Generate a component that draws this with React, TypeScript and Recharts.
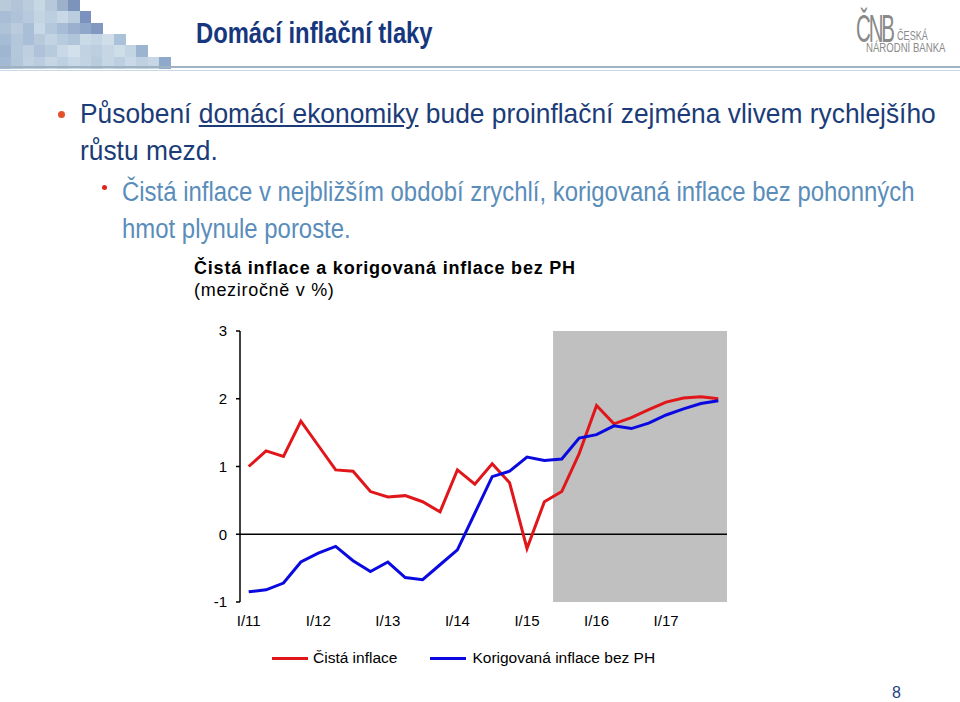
import React from "react";
import {
  ComposedChart,
  Line,
  XAxis,
  YAxis,
  ReferenceArea,
  ReferenceLine,
} from "recharts";

const quarters = [
  "I/11", "II/11", "III/11", "IV/11",
  "I/12", "II/12", "III/12", "IV/12",
  "I/13", "II/13", "III/13", "IV/13",
  "I/14", "II/14", "III/14", "IV/14",
  "I/15", "II/15", "III/15", "IV/15",
  "I/16", "II/16", "III/16", "IV/16",
  "I/17", "II/17", "III/17", "IV/17",
];

const cistaInflace = [
  1.0, 1.23, 1.15, 1.67, 1.31, 0.95, 0.93, 0.63, 0.55, 0.57, 0.48, 0.33, 0.95, 0.74,
  1.04, 0.76, -0.21, 0.48, 0.63, 1.19, 1.9, 1.63, 1.72, 1.84, 1.95, 2.01, 2.03, 2.0,
];

const korigovanaInflace = [
  -0.85, -0.82, -0.72, -0.41, -0.28, -0.18, -0.39, -0.55, -0.41, -0.64, -0.67, -0.45, -0.23, 0.31,
  0.85, 0.93, 1.14, 1.09, 1.11, 1.42, 1.47, 1.6, 1.56, 1.64, 1.76, 1.85, 1.93, 1.97,
];

const yTicks = [-1, 0, 1, 2, 3];
const forecastStart = "III/15";
const forecastEnd = "IV/17";

const seriesNames = ["Čistá inflace", "Korigovaná inflace bez PH"];
const seriesColors = ["#E0161B", "#0A0AE0"];

const data = quarters.map((q, i) => ({
  q,
  cista: cistaInflace[i],
  korig: korigovanaInflace[i],
}));

const mosaicRows: string[][] = [
  ["#B9CADB", "#B2C4D8", "#BBCDDD", "#C7D7E4", "#B6C9DB", "#9DB1CD", "#7C94BC"],
  ["#A9BED6", "#AFC3D8", "#B7C9DC", "#C3D4E3", "#BCCFE0", "#C9D8E6", "#BACDDF", "#7A92BD"],
  ["#AFC3D8", "#B9CBDD", "#A9BFD7", "#C8D8E6", "#B4C8DC", "#A7BCD6", "#9AB0CE", "#8FA7C8", "#8199C1"],
  ["#A5BCD5", "#B3C6DA", "#A9BFD7", "#B7CADC", "#C2D3E3", "#B8CBDE", "#B0C4DA", "#CADAE7", "#C4D5E4", "#D0DEEA", "#A9C1D9"],
  ["#9FB6D1", "#B4C8DC", "#BDCFE0", "#AEC3D9", "#B8CBDD", "#C9D8E6", "#D2E0EB", "#C1D3E3", "#BCCFE0", "#C6D6E5", "#CFDDE9", "#C3D4E3", "#9CB4D0"],
  ["#A4BAD4", "#B3C7DB", "#C0D2E2", "#BACDDF", "#C6D6E5", "#BDD0E1", "#C8D8E6", "#C2D4E3", "#B9CCDE", "#C5D6E5", "#BCCFE0", "#C9D9E7", "#BFD1E1", "#C7D7E5", "#8EA9CA"],
];

const sans = "'Liberation Sans', Arial, sans-serif";

const squeeze = (sx: number): React.CSSProperties => ({
  transform: `scaleX(${sx})`,
  transformOrigin: "left top",
  whiteSpace: "nowrap",
});

export default function App() {
  const cell = 11.37;
  return (
    <div
      style={{
        position: "absolute",
        left: 0,
        top: 0,
        width: 960,
        height: 702,
        background: "#fff",
        overflow: "hidden",
      }}
    >
      {/* mosaic */}
      {mosaicRows.map((row, r) =>
        row.map((c, k) => (
          <div
            key={`${r}-${k}`}
            style={{
              position: "absolute",
              left: k * cell,
              top: r * cell,
              width: cell + 0.5,
              height: cell + 0.5,
              background: c,
            }}
          />
        ))
      )}
      {/* header lines */}
      <div style={{ position: "absolute", left: 0, top: 66, width: 960, height: 2, background: "#9DB3C3" }} />
      <div style={{ position: "absolute", left: 0, top: 69.5, width: 960, height: 1.5, background: "#C9D9E6" }} />

      {/* title */}
      <div
        style={{
          position: "absolute",
          left: 196,
          top: 17,
          fontFamily: sans,
          fontWeight: "bold",
          fontSize: 29,
          color: "#16377E",
          ...squeeze(0.82),
        }}
      >
        Domácí inflační tlaky
      </div>

      {/* logo */}
      <div
        style={{
          position: "absolute",
          left: 856,
          top: 10,
          fontFamily: sans,
          fontSize: 38,
          lineHeight: "38px",
          letterSpacing: -4,
          color: "#8A8A8A",
          ...squeeze(0.54),
        }}
      >
        ČNB
      </div>
      <div
        style={{
          position: "absolute",
          left: 897,
          top: 30,
          fontFamily: sans,
          fontSize: 12,
          lineHeight: "12px",
          color: "#8A8A8A",
          ...squeeze(0.76),
        }}
      >
        ČESKÁ
      </div>
      <div
        style={{
          position: "absolute",
          left: 866,
          top: 42,
          fontFamily: sans,
          fontSize: 12,
          lineHeight: "12px",
          color: "#8A8A8A",
          ...squeeze(0.8),
        }}
      >
        NÁRODNÍ BANKA
      </div>

      {/* bullet 1 */}
      <div style={{ position: "absolute", left: 58, top: 111, width: 7, height: 7, borderRadius: 4, background: "#E4502A" }} />
      <div
        style={{
          position: "absolute",
          left: 80,
          top: 95,
          fontFamily: sans,
          fontSize: 28.5,
          lineHeight: "37px",
          color: "#1B3C78",
          ...squeeze(0.925),
        }}
      >
        Působení <span style={{ textDecoration: "underline" }}>domácí ekonomiky</span> bude proinflační zejména vlivem
        rychlejšího
        <br />
        růstu mezd.
      </div>

      {/* bullet 2 */}
      <div style={{ position: "absolute", left: 102, top: 185, width: 5, height: 5, borderRadius: 3, background: "#E2231A" }} />
      <div
        style={{
          position: "absolute",
          left: 122,
          top: 174,
          fontFamily: sans,
          fontSize: 27,
          lineHeight: "37px",
          color: "#5A8DBA",
          ...squeeze(0.886),
        }}
      >
        Čistá inflace v nejbližším období zrychlí, korigovaná inflace bez pohonných
        <br />
        hmot plynule poroste.
      </div>

      {/* chart title */}
      <div
        style={{
          position: "absolute",
          left: 194,
          top: 257,
          fontFamily: sans,
          fontSize: 18,
          lineHeight: "22px",
          color: "#000",
          whiteSpace: "nowrap",
        }}
      >
        <div style={{ fontWeight: "bold", letterSpacing: 0.8 }}>Čistá inflace a korigovaná inflace bez PH</div>
        <div style={{ letterSpacing: 0.7 }}>(meziročně v %)</div>
      </div>

      {/* chart */}
      <div style={{ position: "absolute", left: 180, top: 300 }}>
        <ComposedChart
          width={600}
          height={400}
          data={data}
          margin={{ top: 31, right: 53, bottom: 68, left: 0 }}
        >
          <XAxis
            dataKey="q"
            type="category"
            scale="band"
            interval={3}
            axisLine={false}
            tickLine={false}
            tickSize={0}
            tickMargin={13}
            height={30}
            tick={{ fill: "#000", fontSize: 15, fontFamily: sans }}
          />
          <YAxis
            type="number"
            domain={[-1, 3]}
            ticks={yTicks}
            width={60}
            axisLine={{ stroke: "#000", strokeWidth: 1.5 }}
            tickLine={{ stroke: "#000", strokeWidth: 1.5 }}
            tickSize={4}
            tickMargin={9}
            tick={{ fill: "#000", fontSize: 15, fontFamily: sans }}
          />
          <ReferenceArea
            x1={forecastStart}
            x2={forecastEnd}
            y1={-1}
            y2={3}
            fill="#C0C0C0"
            fillOpacity={1}
            stroke="none"
          />
          <ReferenceLine y={0} stroke="#000" strokeWidth={1.5} />
          <Line
            dataKey="cista"
            name={seriesNames[0]}
            type="linear"
            stroke={seriesColors[0]}
            strokeWidth={3}
            dot={false}
            isAnimationActive={false}
          />
          <Line
            dataKey="korig"
            name={seriesNames[1]}
            type="linear"
            stroke={seriesColors[1]}
            strokeWidth={3}
            dot={false}
            isAnimationActive={false}
          />
        </ComposedChart>
      </div>

      {/* legend */}
      <div
        style={{
          position: "absolute",
          left: 272,
          top: 649,
          display: "flex",
          alignItems: "center",
          fontFamily: sans,
          fontSize: 15.5,
          color: "#000",
          whiteSpace: "nowrap",
        }}
      >
        <span style={{ display: "inline-block", width: 36, height: 3, background: seriesColors[0], marginRight: 5 }} />
        <span style={{ marginRight: 33 }}>{seriesNames[0]}</span>
        <span style={{ display: "inline-block", width: 36, height: 3, background: seriesColors[1], marginRight: 6 }} />
        <span>{seriesNames[1]}</span>
      </div>

      {/* page number */}
      <div
        style={{
          position: "absolute",
          left: 892,
          top: 684,
          fontFamily: sans,
          fontSize: 16,
          color: "#1E3F80",
        }}
      >
        8
      </div>
    </div>
  );
}
